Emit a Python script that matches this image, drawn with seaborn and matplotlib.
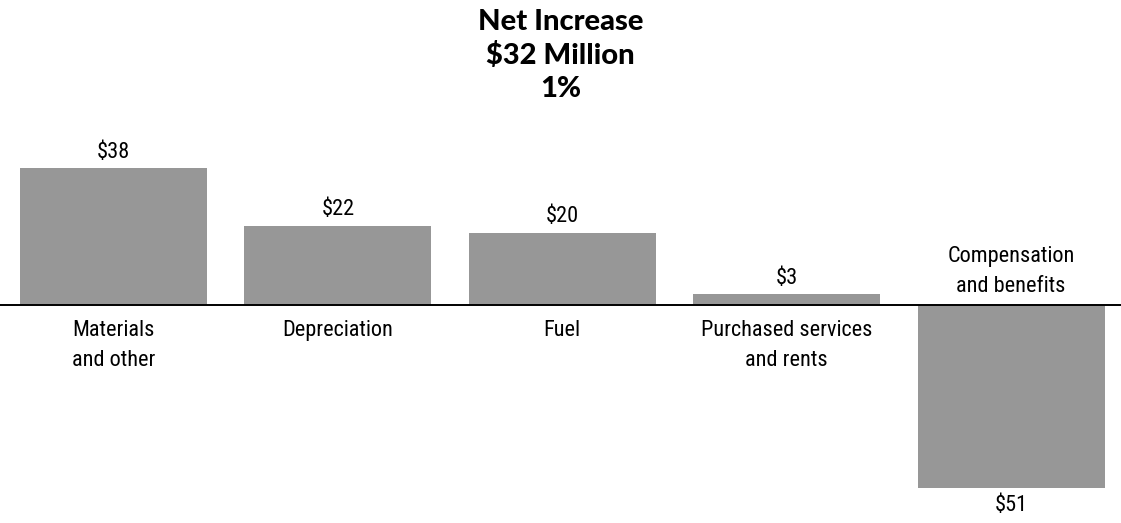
import matplotlib
matplotlib.use("Agg")
import matplotlib.pyplot as plt
import seaborn as sns
import pandas as pd
from matplotlib import font_manager

categories = ["Materials\nand other", "Depreciation", "Fuel",
              "Purchased services\nand rents", "Compensation\nand benefits"]
changes = [38, 22, 20, 3, -51]
value_labels = ["$38", "$22", "$20", "$3", "$51"]
title_lines = ["Net Increase", "$32 Million", "1%"]

sns.set_theme(style="white")
fonts = font_manager.fontManager.ttflist
installed = {f.name for f in fonts}


def pick(*candidates):
    for name in candidates:
        if name in installed:
            return name
    return "DejaVu Sans"


def pick_heavy(*candidates):
    # first family that ships a genuinely bold face
    for name in candidates:
        weights = [f.weight for f in fonts if f.name == name]
        heavy = [w for w in weights if isinstance(w, int) and w >= 700]
        if heavy:
            return name, max(heavy)
    return "DejaVu Sans", "bold"


label_font = pick("Roboto Condensed", "Archivo Narrow", "Barlow Condensed",
                  "Liberation Sans Narrow")
title_font, title_weight = pick_heavy("League Spartan", "Jost", "Lato")
plt.rcParams["font.family"] = [label_font, "DejaVu Sans"]
plt.rcParams["text.color"] = "black"

df = pd.DataFrame({"category": categories, "change": changes})

fig = plt.figure(figsize=(11.21, 5.23), dpi=100)
ax = fig.add_axes([0, 0, 1, 1])
sns.barplot(data=df, x="category", y="change", color="#979797", saturation=1,
            width=0.833, ax=ax, edgecolor="none")

ax.set_xlim(-0.506, 4.49)
ax.set_ylim(-60.6, 84.7)
ax.axhline(0, color="black", lw=1.4, zorder=3)
ax.axis("off")

fs = 16
for i, (cat, val, lab) in enumerate(zip(categories, changes, value_labels)):
    if val >= 0:
        ax.annotate(lab, (i, val), xytext=(0, 4), textcoords="offset points",
                    ha="center", va="bottom", fontsize=fs, color="black")
        ax.annotate(cat, (i, 0), xytext=(0, -11), textcoords="offset points",
                    ha="center", va="top", fontsize=fs, linespacing=1.55,
                    color="black")
    else:
        ax.annotate(lab, (i, val), xytext=(0, -5), textcoords="offset points",
                    ha="center", va="top", fontsize=fs, color="black")
        ax.annotate(cat, (i, 0), xytext=(0, 6), textcoords="offset points",
                    ha="center", va="bottom", fontsize=fs, linespacing=1.55,
                    color="black")

fig.text(0.5, 0.983, "\n".join(title_lines), ha="center", va="top",
         fontsize=21, fontweight=title_weight,
         family=[title_font, "DejaVu Sans"], linespacing=1.32, color="black")

fig.savefig("out.png", dpi=100)
